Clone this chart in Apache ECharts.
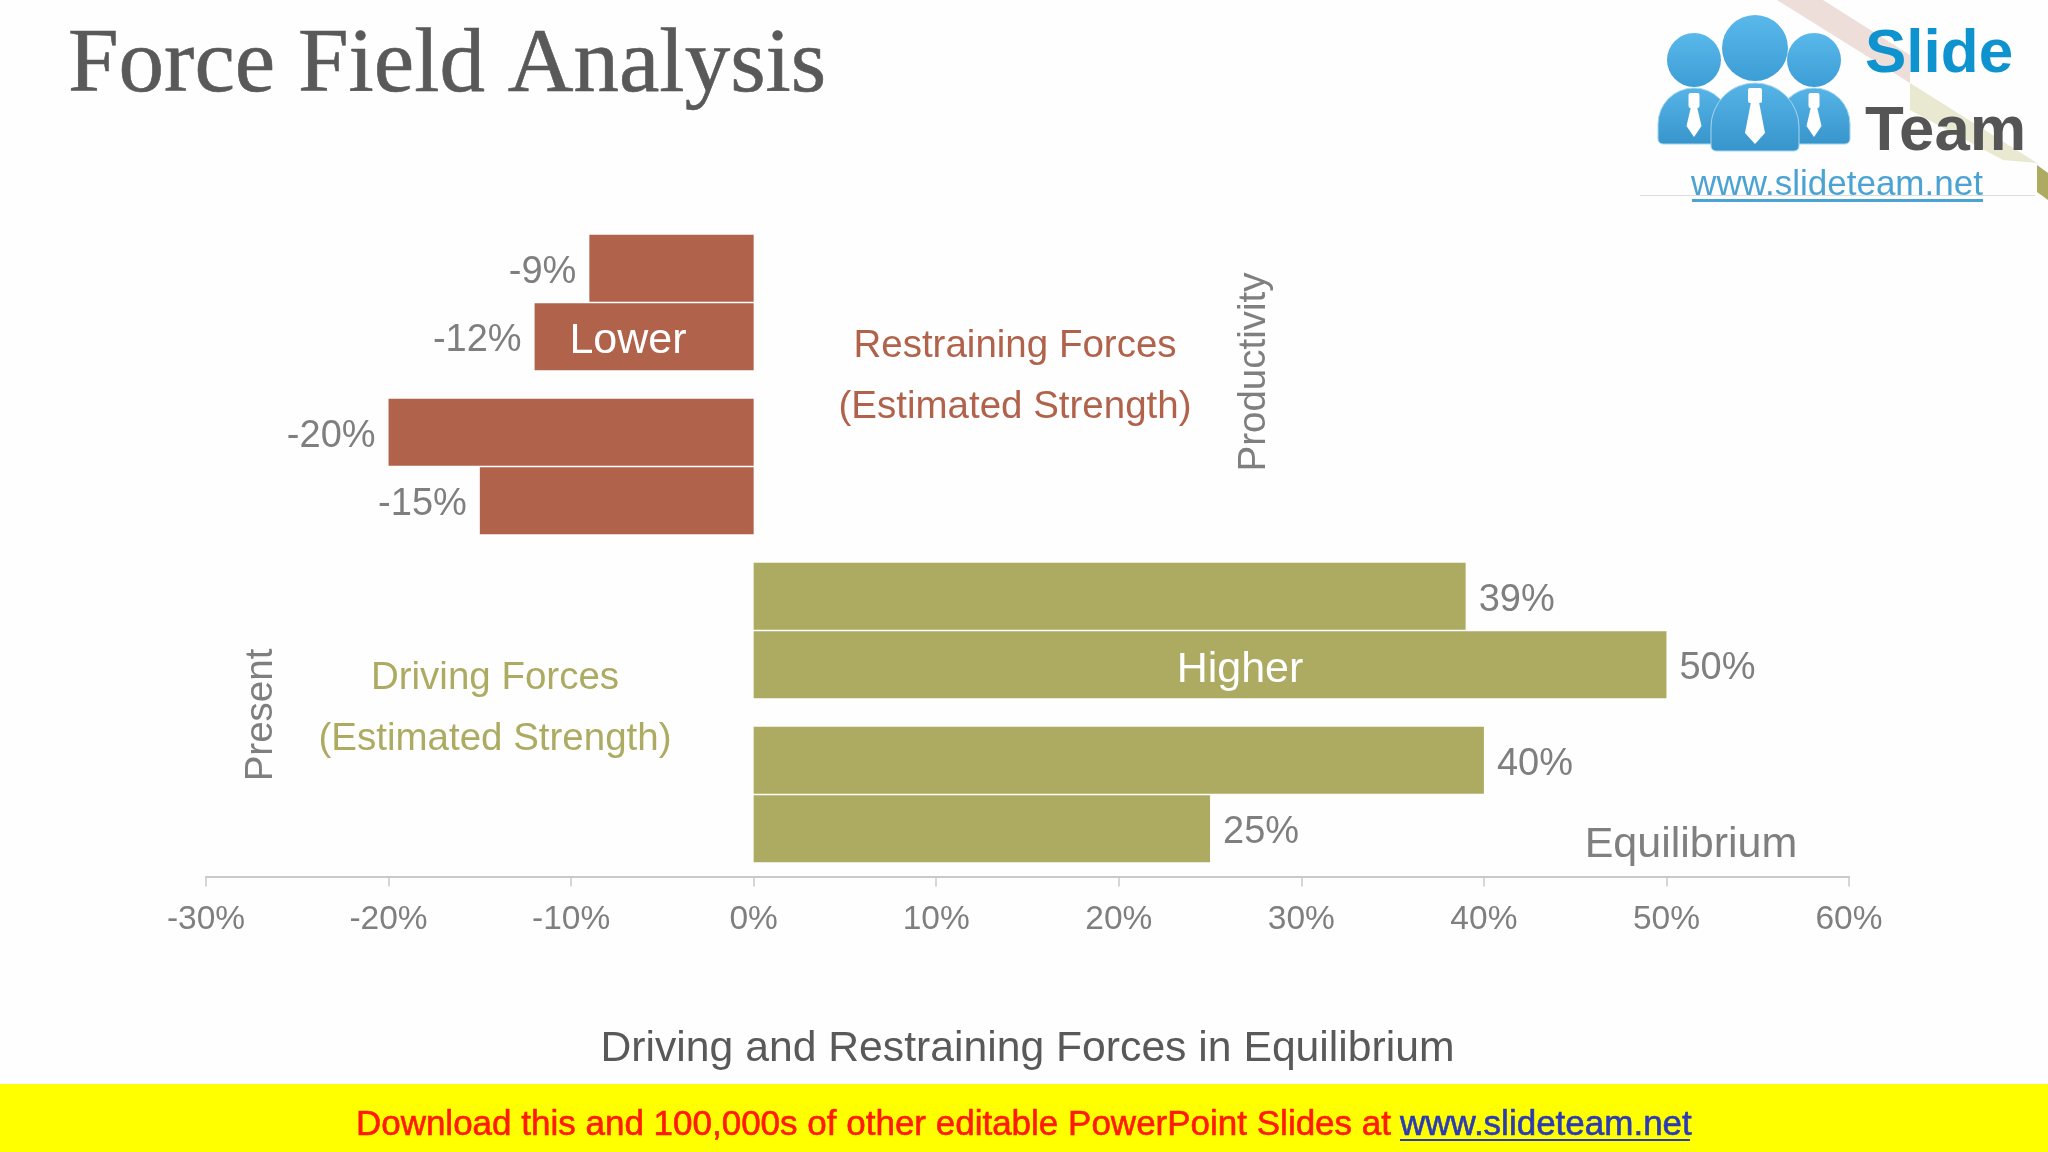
<!DOCTYPE html>
<html>
<head>
<meta charset="utf-8">
<title>Force Field Analysis</title>
<style>
html,body{margin:0;padding:0;background:#fefefe;}
#chart{width:2048px;height:1152px;}
</style>
<script src="https://cdn.jsdelivr.net/npm/echarts@6/dist/echarts.min.js"></script>
</head>
<body>
<div id="chart"></div>
<script>
var categories = ['Group 1', 'Group 2', 'Group 3', 'Group 4'];
var firstBars = [-9, -20, 39, 40];
var secondBars = [-12, -15, 50, 25];
var axisMin = -30, axisMax = 60, axisStep = 10;

var RED = '#b0624b', OLIVE = '#adab62', GREY = '#7f7f7f';
var SANS = '"Liberation Sans", Arial, sans-serif';

function barData(values){
    return values.map(function(v){
        return {
            value: v,
            itemStyle: {color: v < 0 ? RED : OLIVE},
            label: {position: v < 0 ? 'left' : 'right'}
        };
    });
}

function barSeries(values){
    return {
        type: 'bar',
        data: barData(values),
        barWidth: 67,
        barGap: '2%',
        silent: true,
        label: {
            show: true,
            distance: 13,
            offset: [0, 4],
            formatter: '{c}%',
            color: GREY,
            fontFamily: SANS,
            fontSize: 38
        }
    };
}

// plain text helper for the slide's annotations
function label(text, x, y, size, color, extra){
    extra = extra || {};
    return {
        type: 'text',
        x: x,
        y: y,
        rotation: extra.rotation || 0,
        z: 10,
        style: {
            text: text,
            fill: color,
            stroke: extra.stroke,
            lineWidth: extra.stroke ? 0.6 : 0,
            font: (extra.weight || 'normal') + ' ' + size + 'px ' + (extra.family || SANS),
            textAlign: extra.align || 'center',
            textVerticalAlign: 'middle',
            verticalAlign: 'middle'
        }
    };
}

function poly(points, color, z){
    return {type: 'polygon', z: z || 5, shape: {points: points}, style: {fill: color}};
}

function fade(top, bottom){
    return new echarts.graphic.LinearGradient(0, 0, 0, 1, [
        {offset: 0, color: top},
        {offset: 1, color: bottom}
    ]);
}

// logo figure: head, domed body, knot and tie
function person(cx, headY, headR, bodyW, bodyTop, bodyBottom, knotW, tieW, z){
    var knotTop = bodyTop + 5;
    var neck = knotTop + 15;
    return [
        {type: 'rect', z: z, shape: {x: cx - bodyW / 2, y: bodyTop, width: bodyW, height: bodyBottom - bodyTop, r: [bodyW / 2, bodyW / 2, 5, 5]}, style: {fill: fade('#56b4e6', '#3795cd'), stroke: '#a5d6f0', lineWidth: 1}},
        {type: 'circle', z: z, shape: {cx: cx, cy: headY, r: headR}, style: {fill: fade('#5ab8ea', '#3c9ed6')}},
        {type: 'rect', z: z, shape: {x: cx - knotW / 2, y: knotTop, width: knotW, height: 15, r: 2}, style: {fill: '#ffffff'}},
        poly([[cx - knotW * 0.3, neck], [cx + knotW * 0.3, neck], [cx + tieW / 2, bodyBottom - 18], [cx, bodyBottom - 7], [cx - tieW / 2, bodyBottom - 18]], '#ffffff', z)
    ];
}

var graphics = [
    label('Force Field Analysis', 68, 67, 91, '#595959', {family: '"Liberation Serif", serif', align: 'left', stroke: '#595959'}),
    label('Restraining Forces', 1015, 346, 38.5, RED),
    label('(Estimated Strength)', 1015, 407, 38.5, RED),
    label('Driving Forces', 495, 678, 38.5, OLIVE),
    label('(Estimated Strength)', 495, 739, 38.5, OLIVE),
    label('Productivity', 1254, 372, 38.5, GREY, {rotation: Math.PI / 2}),
    label('Present', 261, 715, 38.5, GREY, {rotation: Math.PI / 2}),
    label('Lower', 628, 341, 43, '#ffffff'),
    label('Higher', 1240, 670, 43, '#ffffff'),
    label('Equilibrium', 1691, 845, 43, GREY),
    // yellow download band
    {type: 'rect', z: 4, shape: {x: 0, y: 1084, width: 2048, height: 68}, style: {fill: '#ffff00'}},
    label('Download this and 100,000s of other editable PowerPoint Slides at', 1391, 1125, 35, '#ff1a00', {align: 'right', stroke: '#ff1a00'}),
    label('www.slideteam.net', 1400, 1125, 35, '#2b3ab5', {align: 'left', stroke: '#2b3ab5'}),
    {type: 'rect', z: 10, shape: {x: 1400, y: 1139, width: 290, height: 2}, style: {fill: '#2b3ab5'}},
    // logo
    poly([[1777, 0], [1823, 0], [1910, 55], [1910, 83]], '#eeded9', 3),
    poly([[1910, 83], [2037, 163], [2003, 160], [1910, 110]], '#e9e8d0', 3),
    poly([[2037, 165], [2048, 173], [2048, 200], [2037, 192]], OLIVE, 3),
    {type: 'rect', z: 4, shape: {x: 1640, y: 195, width: 395, height: 1}, style: {fill: '#dddddd'}},
    label('Slide', 1865, 55, 62, '#0f93cf', {weight: 'bold', align: 'left'}),
    label('Team', 1865, 132, 63.5, '#555555', {weight: 'bold', align: 'left'}),
    label('www.slideteam.net', 1837, 185, 35, '#4ba3d3'),
    {type: 'rect', z: 6, shape: {x: 1692, y: 199, width: 291, height: 3}, style: {fill: '#4ba3d3'}}
]
    .concat(person(1694, 60, 27, 72, 88, 144, 11, 15, 6))
    .concat(person(1814, 60, 27, 72, 88, 144, 11, 15, 6))
    .concat(person(1755, 48, 33, 88, 83, 151, 14, 20, 7));

var chart = echarts.init(document.getElementById('chart'));
chart.setOption({
    backgroundColor: '#fefefe',
    animation: false,
    grid: {left: 206, right: 199, top: 220.5, height: 656},
    xAxis: {
        type: 'value',
        min: axisMin,
        max: axisMax,
        interval: axisStep,
        name: 'Driving and Restraining Forces in Equilibrium',
        nameLocation: 'middle',
        nameGap: 151,
        nameTextStyle: {color: '#595959', fontFamily: SANS, fontSize: 42.7},
        splitLine: {show: false},
        axisLine: {show: true, onZero: false, lineStyle: {color: '#c9c9c9', width: 2}},
        axisTick: {show: true, length: 10, lineStyle: {color: '#c9c9c9', width: 1.5}},
        axisLabel: {
            formatter: '{value}%',
            margin: 26,
            color: GREY,
            fontFamily: SANS,
            fontSize: 33.5
        }
    },
    yAxis: {
        type: 'category',
        inverse: true,
        data: categories,
        axisLine: {show: false},
        axisTick: {show: false},
        axisLabel: {show: false},
        splitLine: {show: false}
    },
    series: [barSeries(firstBars), barSeries(secondBars)],
    graphic: {elements: graphics}
});
</script>
</body>
</html>
